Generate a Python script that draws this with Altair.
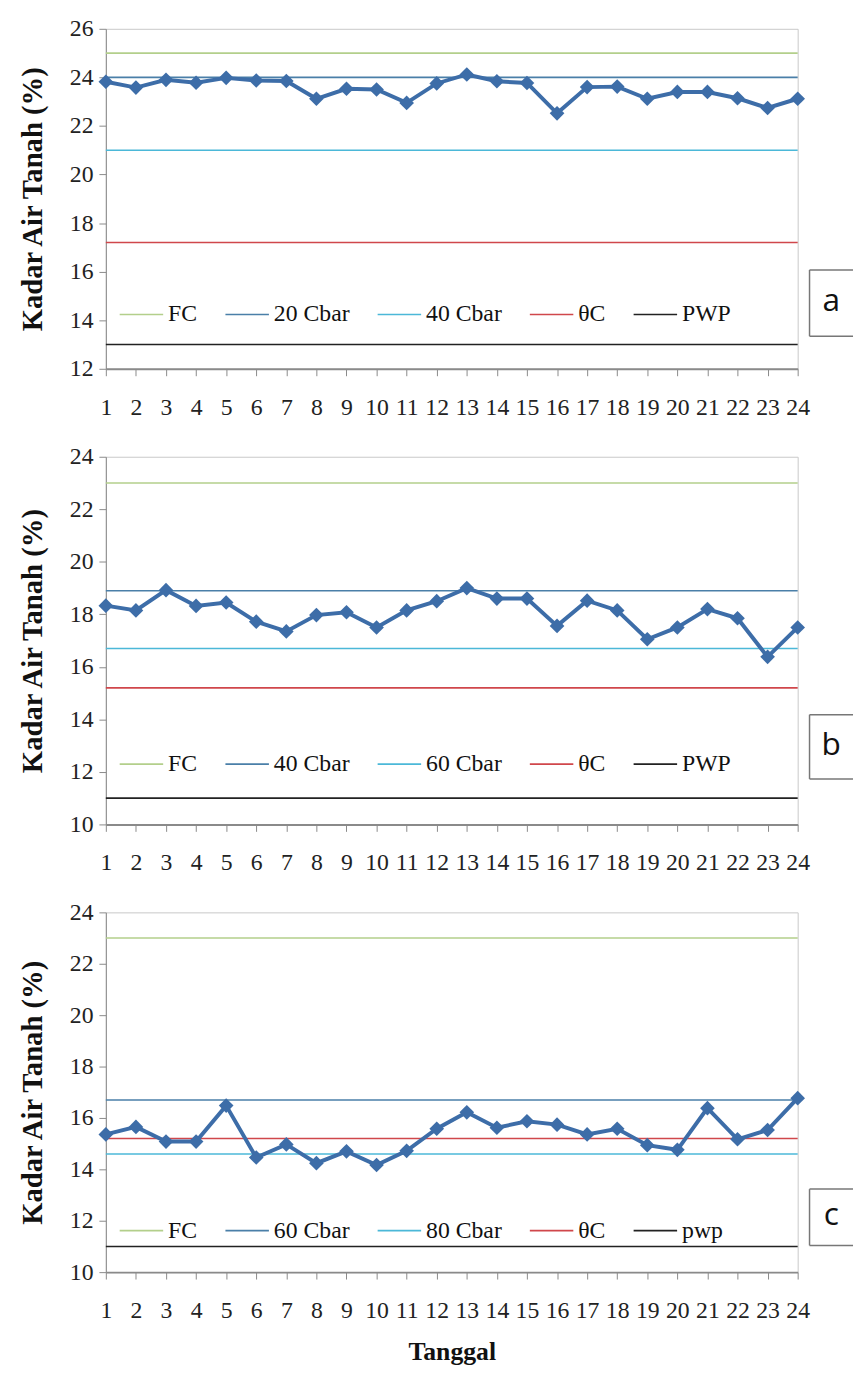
import altair as alt
import pandas as pd

days = list(range(1, 25))

vals_a = [23.82, 23.58, 23.9, 23.78, 23.98, 23.87, 23.85, 23.12, 23.53, 23.5, 22.95, 23.75,
          24.12, 23.84, 23.77, 22.52, 23.6, 23.62, 23.12, 23.4, 23.4, 23.14, 22.74, 23.12]
vals_b = [18.33, 18.15, 18.92, 18.32, 18.45, 17.72, 17.35, 17.97, 18.08, 17.5, 18.15, 18.5,
          19.0, 18.6, 18.6, 17.56, 18.52, 18.15, 17.05, 17.5, 18.2, 17.85, 16.38, 17.5]
vals_c = [15.36, 15.65, 15.08, 15.08, 16.48, 14.46, 14.97, 14.24, 14.7, 14.17, 14.72, 15.58,
          16.22, 15.62, 15.87, 15.74, 15.36, 15.58, 14.94, 14.76, 16.38, 15.17, 15.53, 16.77]

ref_a_names = ["FC", "20 Cbar", "40 Cbar", "θC", "PWP"]
ref_a_vals = [25, 24, 21, 17.2, 13]
ref_b_names = ["FC", "40 Cbar", "60 Cbar", "θC", "PWP"]
ref_b_vals = [23, 18.9, 16.7, 15.2, 11]
ref_c_names = ["FC", "60 Cbar", "80 Cbar", "θC", "pwp"]
ref_c_vals = [23, 16.7, 14.6, 15.2, 11]

ref_colors = ["#B3CF8B", "#4A7FA8", "#4BB8D8", "#D0474B", "#222222"]
series_color = "#3D6DA8"
y_title = "Kadar Air Tanah (%)"
x_title = "Tanggal"
SERIF = "Liberation Serif"

W = 700


def panel(vals, names, refvals, ydom, label, height, legend_y, box_top, box_bot, show_xtitle):
    df = pd.DataFrame({"Tanggal": days, "v": vals})
    ref = pd.DataFrame({"name": names, "y": refvals})
    xaxis_kwargs = dict(values=days, format="d", tickSize=7, labelPadding=20,
                        labelOverlap=False, labelFlush=False, labelBound=False,
                        labelFont=SERIF, labelFontSize=24,
                        domainColor="#8a8a8a", domainWidth=2, tickColor="#8a8a8a")
    if show_xtitle:
        xaxis = alt.Axis(title=x_title, titleFont=SERIF, titleFontSize=26, titleFontWeight="bold",
                         titleY=80, titleBaseline="middle", titleColor="#111",
                         **xaxis_kwargs)
    else:
        xaxis = alt.Axis(title=None, **xaxis_kwargs)
    xscale = alt.Scale(domain=[1, 24], nice=False, zero=False)
    x = alt.X("Tanggal:Q", scale=xscale, axis=xaxis)
    yscale = alt.Scale(domain=ydom, nice=False, zero=False)
    yaxis = alt.Axis(values=list(range(ydom[0], ydom[1] + 1, 2)), title=y_title,
                     titleFont=SERIF, titleFontSize=29, titleFontWeight="bold", titleColor="#111",
                     titleX=-74, titleY=height / 2, titleBaseline="middle", titleAngle=270,
                     tickSize=7, labelPadding=6, labelOverlap=False,
                     domainColor="#8a8a8a", tickColor="#8a8a8a")

    rules = alt.Chart(ref).mark_rule(strokeWidth=1.6).encode(
        y=alt.Y("y:Q", scale=yscale, axis=yaxis),
        color=alt.Color("name:N", scale=alt.Scale(domain=names, range=ref_colors),
                        legend=alt.Legend(title=None, orient="none", legendX=13, legendY=legend_y,
                                          direction="horizontal", columns=5, symbolType="stroke",
                                          symbolSize=1936, symbolStrokeWidth=1.6,
                                          labelFont=SERIF, labelFontSize=24, labelColor="#111",
                                          columnPadding=24, labelOffset=4)),
    )
    line = alt.Chart(df).mark_line(color=series_color, strokeWidth=4).encode(
        x=x, y=alt.Y("v:Q", scale=yscale, axis=yaxis))
    pts = alt.Chart(df).mark_point(shape="diamond", filled=True, size=220, opacity=1,
                                   color=series_color).encode(
        x=x, y=alt.Y("v:Q", scale=yscale, axis=yaxis))

    one = pd.DataFrame({"k": [0]})
    bx0, bx1 = W + 12, W + 56
    box_t = alt.Chart(one).mark_rule(color="#777", strokeWidth=1.5).encode(
        x=alt.value(bx0), x2=alt.value(bx1), y=alt.value(box_top))
    box_b = alt.Chart(one).mark_rule(color="#777", strokeWidth=1.5).encode(
        x=alt.value(bx0), x2=alt.value(bx1), y=alt.value(box_bot))
    box_l = alt.Chart(one).mark_rule(color="#777", strokeWidth=1.5).encode(
        x=alt.value(bx0), y=alt.value(box_top), y2=alt.value(box_bot))
    txt = alt.Chart(one).mark_text(font="Open Sans", fontSize=32, color="#111",
                                   baseline="middle", align="center").encode(
        x=alt.value(bx0 + 22), y=alt.value((box_top + box_bot) / 2 - 2), text=alt.value(label))

    return alt.layer(rules, line, pts, box_t, box_b, box_l, txt).properties(width=W, height=height)


pa = panel(vals_a, ref_a_names, ref_a_vals, [12, 26], "a", 344, 266, 244, 311, False)
pb = panel(vals_b, ref_b_names, ref_b_vals, [10, 24], "b", 372, 288, 261, 326, False)
pc = panel(vals_c, ref_c_names, ref_c_vals, [10, 24], "c", 364, 299, 280, 337, True)

chart = alt.vconcat(pa, pb, pc, spacing=89, bounds="flush").resolve_scale(
    color="independent", x="independent", y="independent"
).resolve_legend(color="independent").configure_view(
    stroke="#c8c8c8", strokeWidth=1
).configure_axis(
    grid=False, labelFont=SERIF, labelFontSize=24, labelColor="#222"
).configure_axisX(
    labelOverlap=False
).properties(
    padding={"left": 10, "top": 0, "right": 0, "bottom": 0}, background="white"
)

chart.save("out.html", embed_options={"renderer": "svg", "actions": False})
